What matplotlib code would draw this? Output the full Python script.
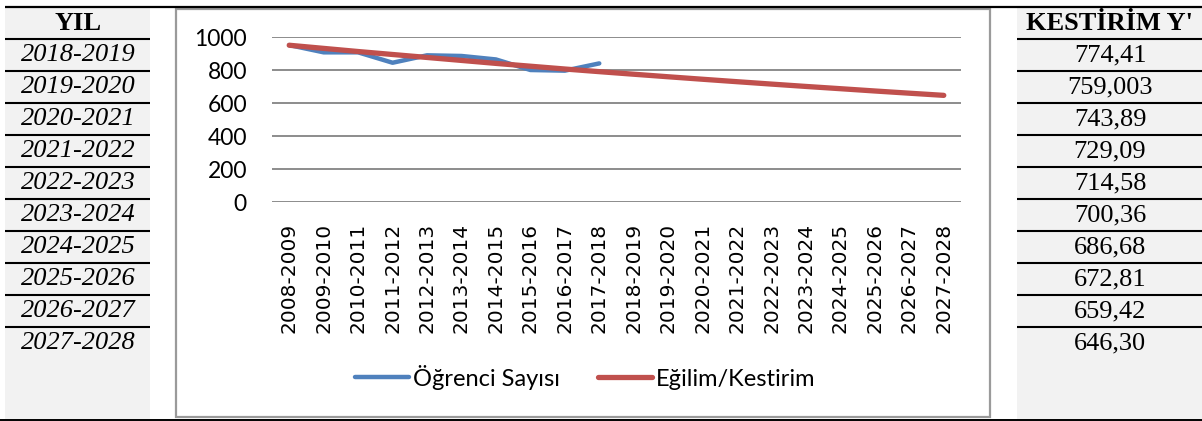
import matplotlib
matplotlib.use("Agg")
import matplotlib.pyplot as plt
from matplotlib.lines import Line2D
from matplotlib.patches import Rectangle
from matplotlib import font_manager

# ---- data ----
categories = ["2008-2009", "2009-2010", "2010-2011", "2011-2012", "2012-2013",
              "2013-2014", "2014-2015", "2015-2016", "2016-2017", "2017-2018",
              "2018-2019", "2019-2020", "2020-2021", "2021-2022", "2022-2023",
              "2023-2024", "2024-2025", "2025-2026", "2026-2027", "2027-2028"]
students = [951, 907, 907, 844, 889, 885, 864, 800, 796, 840]
trend = [950, 931, 912, 894, 876, 858, 840, 823, 806, 790,
         774.41, 759.003, 743.89, 729.09, 714.58, 700.36, 686.68, 672.81, 659.42, 646.30]
yticks = [0, 200, 400, 600, 800, 1000]
table_years = ["2018-2019", "2019-2020", "2020-2021", "2021-2022", "2022-2023",
               "2023-2024", "2024-2025", "2025-2026", "2026-2027", "2027-2028"]
table_values = ["774,41", "759,003", "743,89", "729,09", "714,58",
                "700,36", "686,68", "672,81", "659,42", "646,30"]
left_header = "YIL"
right_header = "KESTİRİM Y'"
series_names = ["Öğrenci Sayısı", "Eğilim/Kestirim"]

plt.rcParams["font.serif"] = ["Liberation Serif", "DejaVu Serif"]

W, H = 1202, 421
fig = plt.figure(figsize=(W / 100, H / 100), dpi=100)
fig.patch.set_facecolor("white")

# background / table layer in pixel coordinates
bg = fig.add_axes([0, 0, 1, 1], zorder=0)
bg.set_xlim(0, W)
bg.set_ylim(H, 0)
bg.axis("off")

gray = "#f2f2f2"
bg.add_patch(Rectangle((5, 7), 145, 412, facecolor=gray, edgecolor="none"))
bg.add_patch(Rectangle((1017, 7), 185, 412, facecolor=gray, edgecolor="none"))
# top and bottom rules
bg.plot([5, W], [7, 7], color="black", lw=1.6, solid_capstyle="butt")
bg.plot([0, W], [419.5, 419.5], color="black", lw=1.4, solid_capstyle="butt")
row_h = 32
first_line = 39
for i in range(len(table_years)):
    y = first_line + i * row_h
    bg.plot([5, 150], [y, y], color="black", lw=1.5, solid_capstyle="butt")
    bg.plot([1017, W], [y, y], color="black", lw=1.5, solid_capstyle="butt")

serif_prop = dict(family="serif", fontsize=19)
bg.text(78, 23, left_header, ha="center", va="center",
        fontweight="bold", **serif_prop)
bg.text(1110, 23, right_header, ha="center", va="center",
        fontweight="bold", **serif_prop)
for i, (yr, val) in enumerate(zip(table_years, table_values)):
    yc = first_line + i * row_h + 16
    bg.text(78, yc, yr, ha="center", va="center", style="italic", **serif_prop)
    bg.text(1110, yc, val, ha="center", va="center", **serif_prop)

# chart frame
bg.add_patch(Rectangle((176, 8.5), 814, 408, facecolor="white",
                       edgecolor="#9a9a9a", lw=1.6))

# ---- chart ----
ax = fig.add_axes([272 / W, 1 - 202 / H, (961 - 272) / W, (202 - 37) / H], zorder=2)
ax.patch.set_alpha(0)
x = list(range(len(categories)))
ax.plot(x[:len(students)], students, color="#4F81BD", lw=3.2,
        solid_capstyle="round", solid_joinstyle="round", zorder=3)
ax.plot(x, trend, color="#C0504D", lw=3.8, solid_capstyle="round", zorder=4)

ax.set_xlim(-0.5, len(categories) - 0.5)
ax.set_ylim(0, 1000)
ax.set_yticks(yticks)
ax.set_yticklabels([str(t) for t in yticks], family="Lato", fontsize=16.5)
ax.set_xticks(x)
ax.set_xticklabels(categories, rotation=90, family="DejaVu Sans", fontsize=14.5)
ax.tick_params(axis="y", length=0, pad=18)
ax.tick_params(axis="x", length=0, pad=15)
ax.grid(axis="y", color="#8c8c8c", lw=1.4)
ax.set_axisbelow(True)
for s in ax.spines.values():
    s.set_visible(False)

handles = [Line2D([], [], color="#4F81BD", lw=3.2, solid_capstyle="round"),
           Line2D([], [], color="#C0504D", lw=3.8, solid_capstyle="round")]
fig.legend(handles, series_names, loc="center", bbox_to_anchor=(585 / W, 1 - 377 / H),
           ncol=2, frameon=False, prop={"family": "Lato", "size": 17},
           handlelength=2.3, handletextpad=0.15, columnspacing=1.6)

fig.savefig("out.png", dpi=100)
